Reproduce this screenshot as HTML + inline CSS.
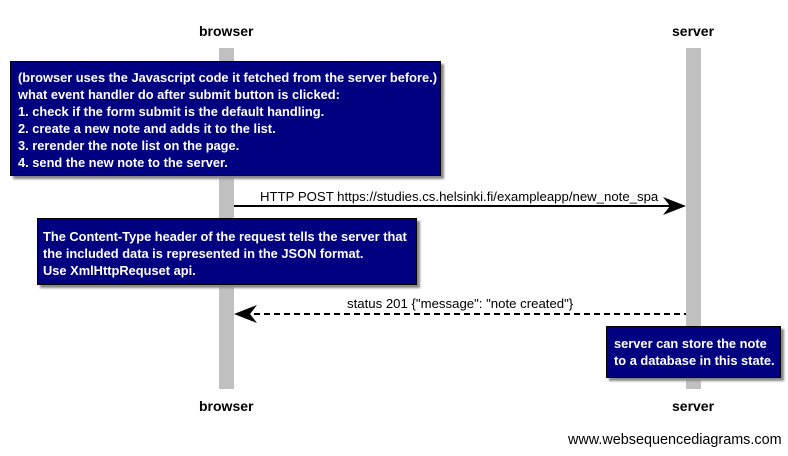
<!DOCTYPE html>
<html><head><style>
body{margin:0;width:788px;height:456px;background:#fff;position:relative;overflow:hidden;font-family:"Liberation Sans",Arial,sans-serif}
.t{position:absolute;font-weight:bold;font-size:14px;color:#000}
.note{position:absolute;background:#000080;border:1px solid #000;box-shadow:3px 3px 2px #888;color:#fff;font-weight:bold;font-size:12.85px;line-height:17px;box-sizing:border-box;white-space:nowrap}
.lbl{position:absolute;font-size:13.2px;color:#000;white-space:nowrap}
</style></head><body>
<div style="position:absolute;left:219px;top:48px;width:15px;height:341px;background:#c0c0c0"></div>
<div style="position:absolute;left:686px;top:48px;width:15px;height:341px;background:#c0c0c0"></div>
<div class="t" style="left:199px;top:23px">browser</div>
<div class="t" style="left:672px;top:23px">server</div>
<div class="t" style="left:199px;top:398px">browser</div>
<div class="t" style="left:672px;top:398px">server</div>
<div class="note" style="left:10px;top:61px;width:431px;height:115px;padding:7px 0 0 7px">(browser uses the Javascript code it fetched from the server before.)<br>what event handler do after submit button is clicked:<br>1. check if the form submit is the default handling.<br>2. create a new note and adds it to the list.<br>3. rerender the note list on the page.<br>4. send the new note to the server.</div>
<div class="note" style="left:37px;top:218px;width:380px;height:67px;padding:9px 0 0 5px">The Content-Type header of the request tells the server that<br>the included data is represented in the JSON format.<br>Use XmlHttpRequset api.</div>
<div class="note" style="left:606px;top:326px;width:175px;height:52px;padding:8px 0 0 7px">server can store the note<br>to a database in this state.</div>
<div class="lbl" style="left:260px;top:189px">HTTP POST https://studies.cs.helsinki.fi/exampleapp/new_note_spa</div>
<div class="lbl" style="left:347px;top:296px">status 201 {"message": "note created"}</div>
<svg style="position:absolute;left:0;top:0" width="788" height="456">
<line x1="234" y1="206" x2="676" y2="206" stroke="#000" stroke-width="2"/>
<polygon points="686,206 663,197 670,206 663,215" fill="#000"/>
<line x1="244" y1="314" x2="686" y2="314" stroke="#000" stroke-width="2" stroke-dasharray="6,4"/>
<polygon points="234,314 257,305 250,314 257,323" fill="#000"/>
</svg>
<div class="lbl" style="left:568px;top:432px;font-size:14.4px">www.websequencediagrams.com</div>
</body></html>
